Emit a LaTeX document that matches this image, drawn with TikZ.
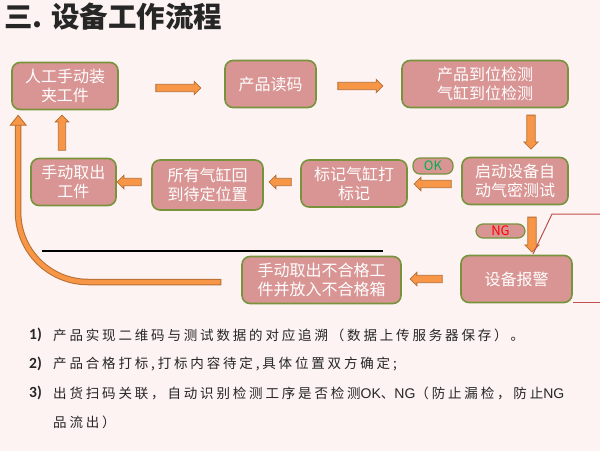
\documentclass[tikz,border=0pt]{standalone}
\usepackage{fontspec}
\setmainfont{Noto Sans CJK SC}
\newfontfamily\listfont[LetterSpace=21]{Noto Sans CJK SC}
\newfontfamily\numfont{Carlito}
\newfontfamily\latinfont{Liberation Sans}
\usetikzlibrary{calc,shapes.arrows}
\definecolor{bgpink}{HTML}{FCF3F2}
\definecolor{boxfill}{HTML}{D99594}
\definecolor{boxline}{HTML}{77933C}
\definecolor{arrfill}{HTML}{F79646}
\definecolor{arrline}{HTML}{B66D31}
\definecolor{okgreen}{HTML}{00B050}
\definecolor{ngred}{HTML}{FF0000}
\definecolor{calloutred}{HTML}{C0504D}
\definecolor{listgray}{HTML}{262626}
\newcommand{\lat}[1]{{\latinfont\fontsize{14}{15}\selectfont #1}}

\begin{document}
\begin{tikzpicture}[x=1pt,y=-1pt,
  stepbox/.style={draw=boxline,fill=boxfill,line width=1.6pt,rounded corners=8pt,text=white,align=center,inner sep=0pt,minimum height=47pt,font=\fontsize{16}{19}\selectfont},
  tag/.style={draw=boxline,fill=boxfill,line width=1.2pt,rounded corners=7pt,inner sep=0pt,font=\fontsize{13}{13}\selectfont},
  barrow/.style={single arrow,draw=arrline,fill=arrfill,line width=0.8pt,inner sep=3.3pt,single arrow head extend=3pt},
  listline/.style={anchor=west,inner sep=0pt,text=listgray,font=\listfont\fontsize{13.5}{15}\selectfont},
  listnum/.style={anchor=west,inner sep=0pt,text=listgray,font=\numfont\bfseries\fontsize{15.5}{16}\selectfont}]

\fill[bgpink] (0,0) rectangle (600,451);
\useasboundingbox (0,0) rectangle (600,451);

\node[anchor=west,inner sep=0pt,font=\bfseries\fontsize{28.5}{30}\selectfont,text=black!85] (title) at (4,17) {三. 设备工作流程};

% steps
\node[stepbox,minimum width=106pt] (load) at (65,86) {人工手动装\\夹工件};
\node[stepbox,minimum width=91pt] (scan) at (270.5,84) {产品读码};
\node[stepbox,minimum width=166pt] (check) at (485,84) {产品到位检测\\气缸到位检测};
\node[stepbox,minimum width=106pt] (leak) at (515,181) {启动设备自\\动气密测试};
\node[stepbox,minimum width=106pt] (mark) at (354,183.5) {标记气缸打\\标记};
\node[stepbox,minimum width=111pt,minimum height=50pt] (reset) at (207.5,185) {所有气缸回\\到待定位置};
\node[stepbox,minimum width=85pt] (unload) at (73.5,182) {手动取出\\工件};
\node[stepbox,minimum width=159pt] (reject) at (321.5,280) {手动取出不合格工\\件并放入不合格箱};
\node[stepbox,minimum width=111pt] (alarm) at (516.5,279) {设备报警};

\node[tag,minimum width=40pt,minimum height=16pt,text=okgreen] (ok) at (433,166) {OK};
\node[tag,minimum width=49pt,minimum height=14pt,text=ngred] (ng) at (500.5,231) {NG};

% block arrows
\node[barrow,minimum height=45pt] (a1) at (176.5,88) {};
\node[barrow,minimum height=45pt] (a2) at (358.5,86) {};
\node[barrow,minimum height=34pt,inner sep=3.8pt,shape border rotate=270] (a3) at (531,130) {};
\node[barrow,minimum height=37pt,shape border rotate=180] (a4) at (434.5,184) {};
\node[barrow,minimum height=22pt,shape border rotate=180] (a5) at (282,182) {};
\node[barrow,minimum height=24pt,shape border rotate=180] (a6) at (131,182) {};
\node[barrow,minimum height=35pt,shape border rotate=90] (a7) at (62,134.5) {};
\node[barrow,minimum height=35pt,inner sep=3.8pt,shape border rotate=270] (a8) at (532,232.5) {};
\node[barrow,minimum height=32pt,shape border rotate=180] (a9) at (428,279) {};

% return path
\coordinate (start) at ($(reject.west)+(-23,2)$);
\coordinate (bend) at (18,282);
\coordinate (tip) at ($(load.south west)+(7,5)$);
\draw[arrline,line width=6.5pt,line cap=rect,rounded corners=70pt] (start) -- (bend) -- ($(tip)+(0,10)$);
\draw[arrfill,line width=4.5pt,line cap=rect,rounded corners=70pt] (start) -- (bend) -- ($(tip)+(0,10)$);
\filldraw[fill=arrfill,draw=arrline,line width=0.8pt] (tip) -- ++(8,10) -- ++(-16,0) -- cycle;

\draw[line width=1.5pt] (42,251) -- (383,251);
\draw[calloutred,line width=1pt] (533,254) -- (552,214) -- (600,214);
\draw[calloutred,line width=1pt] (573,302) -- (600,302);

% notes
\node[listnum] (n1) at (29,335) {1)};
\node[listline] (l1) at (53,335) {产品实现二维码与测试数据的对应追溯（数据上传服务器保存）。};
\node[listnum] (n2) at (29,364) {2)};
\node[listline] (l2) at (53,364) {产品合格打标,打标内容待定,具体位置双方确定;};
\node[listnum] (n3) at (29,393) {3)};
\node[listline] (l3) at (53,393) {出货扫码关联，自动识别检测工序是否检测\lat{OK}、\lat{NG}（防止漏检，防止\lat{NG}};
\node[listline] (l4) at (53,422) {品流出）};

\end{tikzpicture}
\end{document}
